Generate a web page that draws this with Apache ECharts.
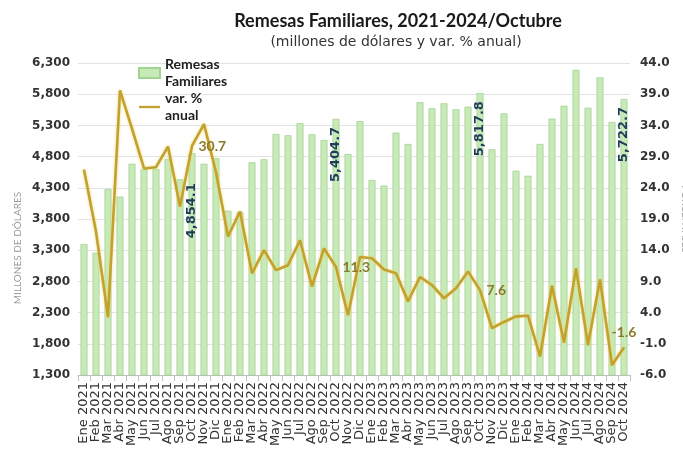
<!DOCTYPE html>
<html>
<head>
<meta charset="utf-8">
<script src="https://cdn.jsdelivr.net/npm/echarts@6/dist/echarts.min.js"></script>
<style>
  html, body { margin: 0; padding: 0; background: #fff; }
  #main { width: 683px; height: 458px; }
</style>
</head>
<body>
<div id="main"></div>
<script>
// meses y años del eje
const meses = ['Ene', 'Feb', 'Mar', 'Abr', 'May', 'Jun', 'Jul', 'Ago', 'Sep', 'Oct', 'Nov', 'Dic'];
const anios = [2021, 2022, 2023, 2024];

// remesas mensuales, millones de dolares (Ene 2021 - Oct 2024)
const remesas = [
  3399, 3260, 4280, 4160, 4685, 4600, 4600, 4765, 4437, 4854.1, 4685, 4774,
  3934, 3912, 4710, 4757, 5163, 5142, 5335, 5158, 5067, 5404.7, 4843, 5367,
  4426, 4335, 5184, 5003, 5672, 5575, 5655, 5559, 5600, 5817.8, 4918, 5494,
  4574, 4494, 5003, 5409, 5616, 6189, 5584, 6071, 5356, 5722.7
];

// variacion % anual
const variacion = [
  26.9, 17.0, 3.3, 39.6, 33.5, 27.1, 27.3, 30.6, 21.0, 30.7, 34.2, 26.5,
  16.2, 20.2, 10.3, 14.0, 10.8, 11.6, 15.6, 8.2, 14.3, 11.3, 3.6, 12.9,
  12.7, 10.9, 10.3, 5.8, 9.7, 8.4, 6.3, 7.9, 10.6, 7.6, 1.5, 2.5,
  3.4, 3.5, -3.0, 8.3, -0.8, 11.1, -1.2, 9.3, -4.4, -1.6
];

const ticksIzq = [1300, 1800, 2300, 2800, 3300, 3800, 4300, 4800, 5300, 5800, 6300];
const ticksDer = [-6, -1, 4, 9, 14, 19, 24, 29, 34, 39, 44];

// meses con etiqueta (octubres)
const conEtiqueta = [9, 21, 33, 45];

const categorias = [];
anios.forEach(a => meses.forEach(m => categorias.push(m + ' ' + a)));
categorias.length = remesas.length;

const fmtMiles = v => v.toLocaleString('en-US', { minimumFractionDigits: 1, maximumFractionDigits: 1 });

const datosBarras = remesas.map((v, i) => {
  if (!conEtiqueta.includes(i)) return v;
  return { value: v, label: { show: true, distance: i === 9 ? 30 : 8 } };
});

const datosLinea = variacion.map((v, i) => {
  if (!conEtiqueta.includes(i)) return v;
  if (i === 45) return { value: v, label: { show: true, position: 'top', distance: 8 } };
  return { value: v, label: { show: true, position: 'right', distance: 6 } };
});

const chart = echarts.init(document.getElementById('main'));

const fuente = 'DejaVu Sans';

const option = {
  backgroundColor: '#fff',
  animation: false,
  title: [
    {
      text: 'Remesas Familiares, 2021-2024/Octubre',
      left: 393, top: 7, textAlign: 'center',
      textStyle: { fontFamily: 'Lato', fontWeight: 'bold', fontSize: 18, color: '#1a1a1a' }
    },
    {
      text: '(millones de dólares y var. % anual)',
      left: 391, top: 30, textAlign: 'center',
      textStyle: { fontFamily: fuente, fontWeight: 'normal', fontSize: 14, color: '#333' }
    }
  ],
  graphic: [
    {
      type: 'text',
      x: 18, y: 248,
      rotation: Math.PI / 2,
      style: {
        text: 'MILLONES DE DÓLARES',
        fontFamily: 'Lato', fontSize: 10, fill: '#9a9a9a',
        align: 'center', verticalAlign: 'middle'
      }
    }
  ],
  legend: {
    orient: 'vertical',
    left: 133, top: 51,
    itemWidth: 21, itemHeight: 10, itemGap: 0,
    formatter: n => n === 'Remesas Familiares' ? 'Remesas\nFamiliares' : 'var. %\nanual',
    textStyle: { fontFamily: 'Lato', fontWeight: 'bold', fontSize: 14, color: '#222', lineHeight: 17 },
    data: [
      { name: 'Remesas Familiares', icon: 'rect' },
      { name: 'var. % anual', icon: 'path://M0,0 L100,0 L100,11 L0,11 Z' }
    ]
  },
  grid: { left: 78, right: 53, top: 63, bottom: 83, outerBoundsMode: 'none' },
  xAxis: {
    type: 'category',
    data: categorias,
    axisLine: { onZero: false, lineStyle: { color: '#bfbfbf' } },
    axisTick: { show: true, alignWithLabel: false, length: 6, lineStyle: { color: '#bfbfbf' } },
    axisLabel: { interval: 0, rotate: 90, margin: 7, fontFamily: fuente, fontSize: 13, color: '#333' }
  },
  yAxis: [
    {
      type: 'value',
      min: 1300, max: 6300, interval: 500,
      axisLine: { show: false }, axisTick: { show: false },
      splitLine: { lineStyle: { color: '#e3e3e3' } },
      axisLabel: {
        margin: 8, fontFamily: fuente, fontWeight: 'bold', fontSize: 12, color: '#333',
        customValues: ticksIzq,
        formatter: v => v.toLocaleString('en-US')
      }
    },
    {
      type: 'value',
      min: -6, max: 44,
      name: 'PORCENTAJES',
      nameLocation: 'middle', nameGap: 48, nameRotate: -90,
      nameTextStyle: { fontFamily: 'Lato', fontSize: 10, color: '#9a9a9a' },
      axisLine: { show: false }, axisTick: { show: false },
      splitLine: { show: false },
      axisLabel: {
        margin: 10, fontFamily: fuente, fontWeight: 'bold', fontSize: 12, color: '#333',
        customValues: ticksDer,
        formatter: v => v.toFixed(1)
      }
    }
  ],
  series: [
    {
      name: 'Remesas Familiares',
      type: 'bar',
      yAxisIndex: 0,
      barWidth: 7,
      data: datosBarras,
      itemStyle: { color: '#c8eab9', borderColor: '#a3d390', borderWidth: 0.8 },
      label: {
        show: false,
        position: 'insideTop',
        rotate: 90,
        align: 'right',
        verticalAlign: 'middle',
        fontFamily: fuente, fontWeight: 'bold', fontSize: 13, color: '#1f3d5a',
        formatter: p => fmtMiles(p.value)
      }
    },
    {
      name: 'var. % anual',
      type: 'line',
      yAxisIndex: 1,
      data: datosLinea,
      symbol: 'circle',
      symbolSize: 1,
      showSymbol: true,
      lineStyle: { color: '#c2a12e', width: 2.6, shadowColor: 'rgba(238,214,110,0.9)', shadowBlur: 3 },
      itemStyle: { color: '#c2a12e' },
      label: {
        show: false,
        fontFamily: 'Lato', fontWeight: 'bold', fontSize: 14, color: '#8a7a28',
        formatter: p => p.value.toFixed(1)
      },
      z: 5
    }
  ]
};

chart.setOption(option);
</script>
</body>
</html>
